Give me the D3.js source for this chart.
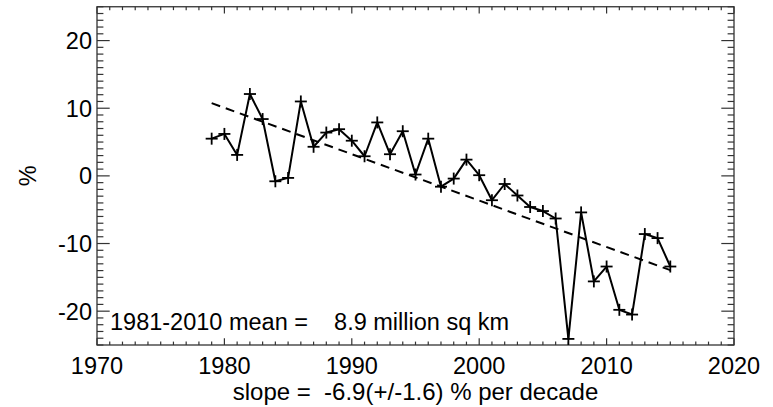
<!DOCTYPE html>
<html>
<head>
<meta charset="utf-8">
<script src="https://cdn.jsdelivr.net/npm/d3@7"></script>
<style>
  html, body { margin: 0; padding: 0; background: #fff; }
  svg { display: block; font-family: "Liberation Sans", Arial, Helvetica, sans-serif; }
</style>
</head>
<body>
<svg id="chart" width="773" height="407"></svg>
<script>
const years = [1979,1980,1981,1982,1983,1984,1985,1986,1987,1988,1989,1990,1991,1992,1993,1994,1995,1996,1997,1998,1999,2000,2001,2002,2003,2004,2005,2006,2007,2008,2009,2010,2011,2012,2013,2014,2015];
const anomalies = [5.5,6.2,3.1,12.1,8.4,-0.8,-0.3,11.0,4.3,6.4,6.9,5.2,2.9,7.9,3.2,6.6,0.2,5.5,-1.6,-0.4,2.4,0.1,-3.6,-1.2,-2.9,-4.6,-5.2,-6.3,-24.1,-5.4,-15.6,-13.4,-19.8,-20.5,-8.6,-9.2,-13.4];
const xTickLabels = ["1970","1980","1990","2000","2010","2020"];
const yTickLabels = ["-20","-10","0","10","20"];
const meanLabel = "1981-2010 mean =    8.9 million sq km";
const slopeLabel = "slope =  -6.9(+/-1.6) % per decade";
const yTitle = "%";

const svg = d3.select("#chart");
const pLeft = 97, pRight = 734, pTop = 6.75, pBottom = 345;
const x = d3.scaleLinear().domain([1970, 2020]).range([pLeft, pRight]);
const y = d3.scaleLinear().domain([-25, 25]).range([pBottom, pTop]);

const axisColor = "#333";
const majX = 6.8, minX = 3.4, majY = 12.7, minY = 6.4;

// frame
svg.append("rect").attr("x", pLeft).attr("y", pTop).attr("width", pRight - pLeft).attr("height", pBottom - pTop)
  .attr("fill", "none").attr("stroke", axisColor).attr("stroke-width", 1.3);

// ticks on all four sides, pointing inward
const xMinor = d3.range(1970, 2021, 1);
const g = svg.append("g").attr("stroke", axisColor).attr("stroke-width", 1.2);
xMinor.forEach(v => {
  const len = (v % 10 === 0) ? majX : minX;
  g.append("line").attr("x1", x(v)).attr("x2", x(v)).attr("y1", pBottom).attr("y2", pBottom - len);
  g.append("line").attr("x1", x(v)).attr("x2", x(v)).attr("y1", pTop).attr("y2", pTop + len);
});
const yMinor = d3.range(-25, 26, 1);
yMinor.forEach(v => {
  const len = (v % 10 === 0) ? majY : minY;
  g.append("line").attr("y1", y(v)).attr("y2", y(v)).attr("x1", pLeft).attr("x2", pLeft + len);
  g.append("line").attr("y1", y(v)).attr("y2", y(v)).attr("x1", pRight).attr("x2", pRight - len);
});

// tick labels
const fs = 23.5;
svg.append("g").selectAll("text").data(xTickLabels).join("text")
  .attr("x", d => x(+d)).attr("y", 373.5).attr("text-anchor", "middle")
  .attr("font-size", fs).attr("fill", "#000").text(d => d);
svg.append("g").selectAll("text").data(yTickLabels).join("text")
  .attr("x", 92).attr("y", d => y(+d)).attr("dy", "0.36em").attr("text-anchor", "end")
  .attr("font-size", fs).attr("fill", "#000").text(d => d);

svg.append("text").attr("transform", "translate(36," + y(0) + ") rotate(-90)")
  .attr("text-anchor", "middle").attr("font-size", fs).attr("fill", "#000").text(yTitle);

svg.append("text").attr("x", (pLeft + pRight) / 2).attr("y", 400).attr("text-anchor", "middle")
  .attr("font-size", 24).attr("fill", "#000")
  .style("white-space", "pre").text(slopeLabel);

svg.append("text").attr("x", 110).attr("y", 330).attr("font-size", 23.5).attr("fill", "#000")
  .style("white-space", "pre").text(meanLabel);

// regression line
const n = years.length;
const mx = d3.mean(years), my = d3.mean(anomalies);
let sxy = 0, sxx = 0;
years.forEach((yr, i) => { sxy += (yr - mx) * (anomalies[i] - my); sxx += (yr - mx) * (yr - mx); });
const b = sxy / sxx, a = my - b * mx;
const x0 = years[0], x1 = years[n - 1];
svg.append("line").attr("x1", x(x0)).attr("y1", y(a + b * x0)).attr("x2", x(x1)).attr("y2", y(a + b * x1))
  .attr("stroke", "#000").attr("stroke-width", 2).attr("stroke-dasharray", "9,6");

// data line
const line = d3.line().x((d, i) => x(years[i])).y(d => y(d));
svg.append("path").datum(anomalies).attr("d", line).attr("fill", "none")
  .attr("stroke", "#000").attr("stroke-width", 2).attr("stroke-linejoin", "round");

// plus markers
const mk = 6;
const pg = svg.append("g").attr("stroke", "#000").attr("stroke-width", 1.8);
anomalies.forEach((v, i) => {
  const cx = x(years[i]), cy = y(v);
  pg.append("line").attr("x1", cx - mk).attr("x2", cx + mk).attr("y1", cy).attr("y2", cy);
  pg.append("line").attr("x1", cx).attr("x2", cx).attr("y1", cy - mk).attr("y2", cy + mk);
});
</script>
</body>
</html>
